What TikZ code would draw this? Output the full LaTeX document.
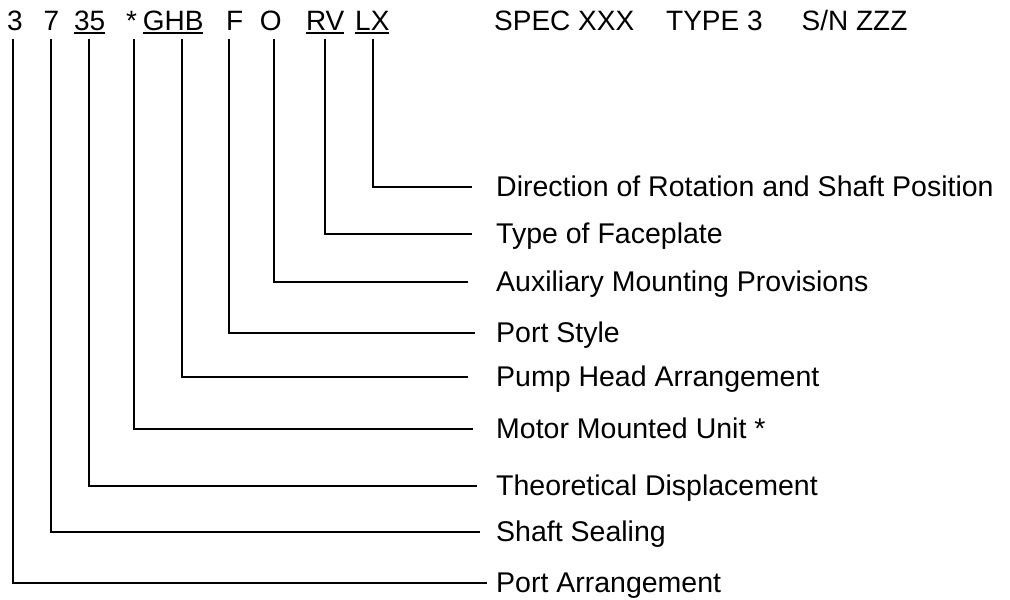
\documentclass[tikz,border=0pt]{standalone}
\usepackage{fontspec}
\setmainfont{Liberation Sans}
\newcommand{\codeul}[1]{\leavevmode\vtop{\hbox{#1}\kern2.2pt\hrule height 1.8pt}}
\begin{document}
\begin{tikzpicture}[x=1pt, y=-1pt, every node/.style={font=\fontsize{28}{32}\selectfont, inner sep=0pt, anchor=base west}]
  \useasboundingbox (0,0) rectangle (1010,600);
  % model code
  \node (c3)    at (6.8,30)   {3};
  \node (c7)    at (43.5,30)  {7};
  \node (c35)   at (73.8,30)  {\codeul{35}};
  \node (cstar) at (126,30)   {*};
  \node (cghb)  at (142.6,30) {\codeul{GHB}};
  \node (cf)    at (225.8,30) {F};
  \node (co)    at (259.6,30) {O};
  \node (crv)   at (305.8,30) {\codeul{RV}};
  \node (clx)   at (355,30)   {\codeul{LX}};
  \node (spec)  at (494,30)   {SPEC XXX};
  \node (type)  at (666,30)   {TYPE 3};
  \node (sn)    at (801.5,30) {S/N ZZZ};
  % legend
  \foreach \c/\x/\y/\g/\t in {lx/373/187/24/{Direction of Rotation and Shaft Position},
      rv/325/234/24/{Type of Faceplate}, o/274/282/28/{Auxiliary Mounting Provisions},
      f/229/333/21/{Port Style}, ghb/182/377/28/{Pump Head Arrangement},
      star/134/429/23/{Motor Mounted Unit *}, 35/89/486/19/{Theoretical Displacement},
      7/51/532/16/{Shaft Sealing}, 3/13/583/9/{Port Arrangement}} {
    \node[font=\fontsize{28.5}{32}\selectfont] (l\c) at (496,\y+9) {\t};
    \coordinate (t\c) at (\x,0);
    \draw[line width=2pt] (t\c |- c\c.base) ++(0,9) |- ([xshift=-\g pt, yshift=9pt]l\c.base west);
  }
\end{tikzpicture}
\end{document}
